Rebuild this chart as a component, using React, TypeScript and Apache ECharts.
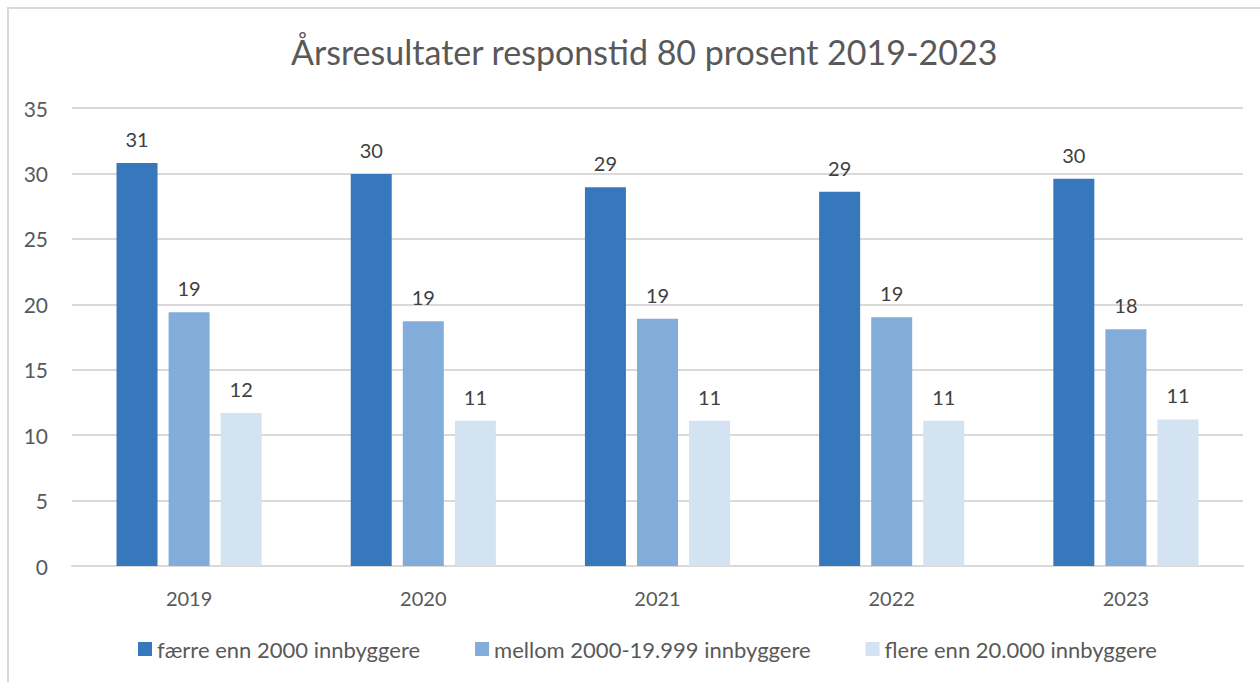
import React, { useEffect, useRef } from "react";
import * as echarts from "echarts";

const titleText = "Årsresultater responstid 80 prosent 2019-2023";
const categories = ["2019", "2020", "2021", "2022", "2023"];
const seriesNames = [
  "færre enn 2000 innbyggere",
  "mellom 2000-19.999 innbyggere",
  "flere enn 20.000 innbyggere",
];
const small = [30.8, 29.95, 28.95, 28.6, 29.6];
const medium = [19.4, 18.7, 18.9, 19.0, 18.1];
const large = [11.7, 11.1, 11.1, 11.1, 11.2];
const colors = ["#3777BC", "#82ACD9", "#D3E3F2"];

const FONT = "Lato, 'Open Sans', sans-serif";

export default function App() {
  const ref = useRef<HTMLDivElement>(null);
  useEffect(() => {
    if (!ref.current) return;
    const chart = echarts.init(ref.current, null, { renderer: "svg" });
    const values = [small, medium, large];
    chart.setOption({
      animation: false,
      backgroundColor: "transparent",
      textStyle: { fontFamily: FONT },
      title: {
        text: titleText,
        left: 286,
        top: 29,
        textStyle: { fontFamily: FONT, fontSize: 34, fontWeight: "normal", color: "#595959" },
      },
      grid: { left: 72, right: 17, top: 108, bottom: 116, containLabel: false },
      legend: {
        bottom: 17,
        left: 133,
        itemWidth: 14,
        itemHeight: 14,
        itemGap: 55,
        icon: "rect",
        textStyle: { fontFamily: FONT, fontSize: 22, color: "#595959" },
        data: seriesNames,
      },
      xAxis: {
        type: "category",
        data: categories,
        axisLine: { lineStyle: { color: "#D9D9D9", width: 2 } },
        axisTick: { show: false },
        axisLabel: { fontFamily: FONT, fontSize: 20, color: "#595959", margin: 22 },
      },
      yAxis: {
        type: "value",
        min: 0,
        max: 35,
        interval: 5,
        axisLine: { show: false },
        axisTick: { show: false },
        splitLine: { lineStyle: { color: "#D9D9D9", width: 2 } },
        axisLabel: { fontFamily: FONT, fontSize: 21, color: "#595959", margin: 24 },
      },
      series: seriesNames.map((name, i) => ({
        name,
        type: "bar",
        data: values[i],
        barWidth: 41,
        barGap: "27%",
        itemStyle: { color: colors[i] },
        label: {
          show: true,
          position: "top",
          distance: 14,
          fontFamily: FONT,
          fontSize: 20,
          color: "#404040",
          formatter: (p: any) => String(Math.round(p.value)),
        },
      })),
    });
    return () => chart.dispose();
  }, []);
  return (
    <div style={{ position: "absolute", left: 0, top: 0, width: 1260, height: 682, background: "#fff", overflow: "hidden" }}>
      <div
        style={{
          position: "absolute",
          left: 7,
          top: 7,
          width: 1260,
          height: 682,
          borderLeft: "2px solid #D9D9D9",
          borderTop: "2px solid #D9D9D9",
        }}
      />
      <div ref={ref} style={{ position: "absolute", left: 0, top: 0, width: 1260, height: 682 }} />
    </div>
  );
}
